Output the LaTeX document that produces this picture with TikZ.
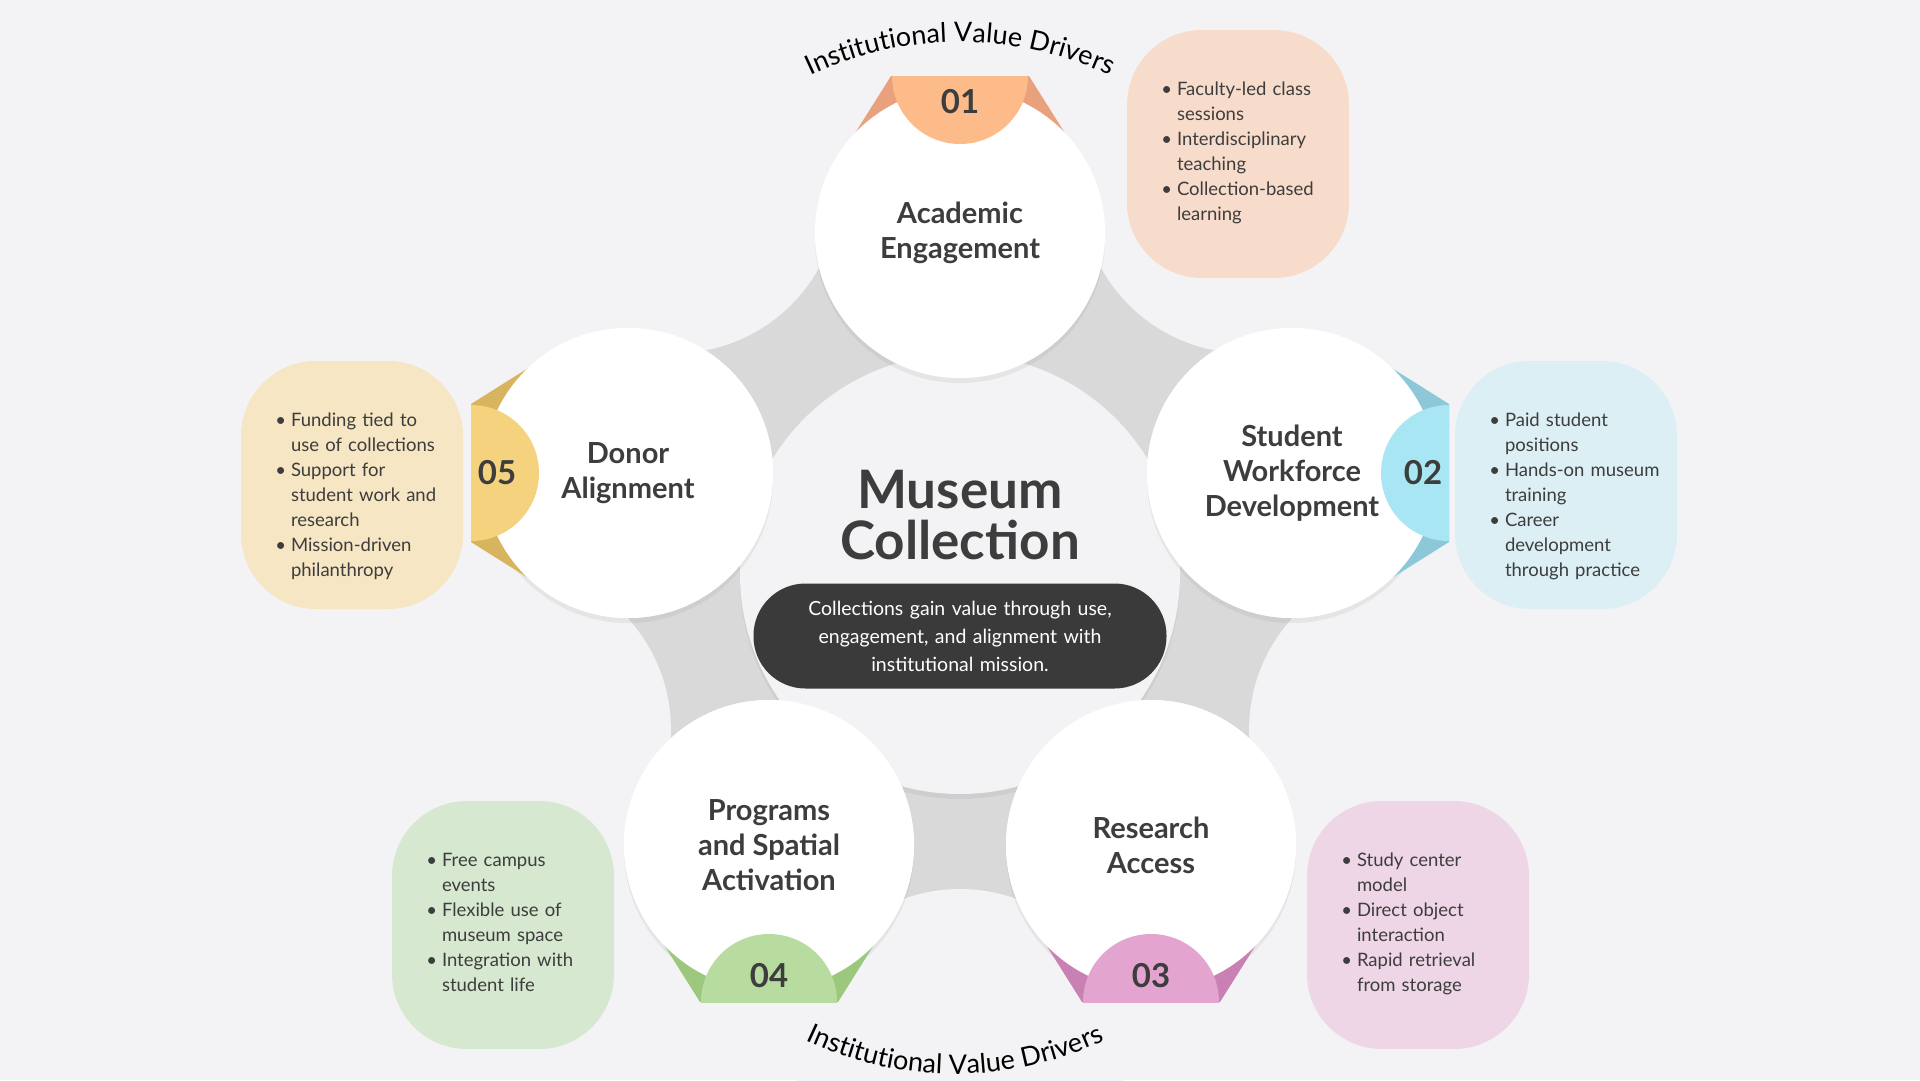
\documentclass[tikz,border=0pt]{standalone}
\usepackage{fontspec}
\setmainfont{Lato}
\usepackage{enumitem}
\usepackage{tikz}
\usetikzlibrary{positioning, calc, shadows, decorations.text}

\definecolor{bg}{HTML}{F3F3F5}
\definecolor{ring}{HTML}{D9D9D9}
\definecolor{ink}{HTML}{3D3D3D}
\definecolor{pill}{HTML}{3A3A3A}
\definecolor{peach}{HTML}{F8DCCB}
\definecolor{peachB}{HTML}{FDBB8A}
\definecolor{peachD}{HTML}{E9A07C}
\definecolor{sky}{HTML}{DCEFF5}
\definecolor{skyB}{HTML}{A8E6F3}
\definecolor{skyD}{HTML}{8DC8D8}
\definecolor{rose}{HTML}{EED6E6}
\definecolor{roseB}{HTML}{E3A5CF}
\definecolor{roseD}{HTML}{C980B2}
\definecolor{mint}{HTML}{D6E8D0}
\definecolor{mintB}{HTML}{B8DCA0}
\definecolor{mintD}{HTML}{9CC87E}
\definecolor{sand}{HTML}{F6E6C3}
\definecolor{sandB}{HTML}{F4D27E}
\definecolor{sandD}{HTML}{D9B45E}

% badge: circle name, outward angle, number, badge colour, ribbon colour
\newcommand{\driverbadge}[5]{%
  \fill[#5] ($(#1)+(#2:157)+(#2+90:69)$) -- ($(#1)+(#2:95)+(#2+90:108)$)
    -- ($(#1)+(#2:95)+(#2-90:108)$) -- ($(#1)+(#2:157)+(#2-90:69)$) -- cycle;
  \fill[white] (#1) circle[radius=145];
  \begin{scope}
    \clip ($(#1)+(#2:157)+(#2+90:200)$) -- ($(#1)+(#2:157)+(#2-90:200)$)
      -- ($(#1)+(#2-90:200)$) -- ($(#1)+(#2+90:200)$) -- cycle;
    \fill[#4] ($(#1)+(#2:157)$) circle[radius=68];
  \end{scope}
  \node[num] at ($(#1)+(#2:131)$) {#3};}

\begin{document}
\begin{tikzpicture}[
    x=1pt, y=-1pt,
    % Estilos
    sat/.style = {circle, fill=white, minimum size=290pt, inner sep=0pt,
        drop shadow={opacity=0.12, shadow xshift=0pt, shadow yshift=-5pt}},
    title/.style = {align=center, text=ink, font=\bfseries\fontsize{29}{35}\selectfont},
    num/.style = {text=ink, font=\bfseries\fontsize{33}{33}\selectfont},
    infobox/.style = {rounded corners=75pt, minimum width=222pt, minimum height=248pt},
    list/.style = {anchor=north west, inner sep=0pt, text width=185pt, text=ink,
        font=\fontsize{18.5}{25}\selectfont},
    arctext/.style = {decorate, decoration={text along path, text align=center,
        text={|\fontsize{27}{27}\selectfont\color{black}|Institutional Value Drivers}}}
]
\useasboundingbox[fill=bg] (0,0) rectangle (1920,1080);

% --- ANILLO GRIS ---
\fill[ring] (960,574) circle[radius=390];
\foreach \a in {-53.5, 18.9, 90, 161.1, 233.5}
  \fill[bg] ($(960,574)+(\a:480)$) circle[radius=165];

% --- NUCLEO ---
\node[circle, fill=bg, minimum size=440pt,
      drop shadow={opacity=0.12, shadow xshift=0pt, shadow yshift=-5pt}] (core) at (960,574) {};
\node[title, font=\bfseries\fontsize{53}{51}\selectfont] (museum) at (960,515) {Museum\\Collection};
\node[rounded corners=52pt, fill=pill, minimum width=413pt, minimum height=105pt,
      text width=395pt, align=center, text=white, font=\fontsize{19.5}{28}\selectfont]
      (note) at (960,636) {\hyphenpenalty=10000 Collections gain value through use,\\engagement, and alignment with\\institutional mission.};

% --- CIRCULOS ---
\node[sat] (acad) at (960,233) {};
\node[sat] (work) at (1292,473) {};
\node[sat] (research) at (1151,845) {};
\node[sat] (programs) at (769,845) {};
\node[sat] (donor) at (628,473) {};

\driverbadge{acad}{-90}{01}{peachB}{peachD}
\driverbadge{work}{0}{02}{skyB}{skyD}
\driverbadge{research}{90}{03}{roseB}{roseD}
\driverbadge{programs}{90}{04}{mintB}{mintD}
\driverbadge{donor}{180}{05}{sandB}{sandD}

\node[title] at (acad) {Academic\\Engagement};
\node[title] at (work) {Student\\Workforce\\Development};
\node[title] at (research) {Research\\Access};
\node[title] at (programs) {Programs\\and Spatial\\Activation};
\node[title] at (donor) {Donor\\Alignment};

% --- CAJAS DE TEXTO ---
\node[infobox, fill=peach] (acadbox) at (1238,154) {};
\node[infobox, fill=sky] (workbox) at (1566,485) {};
\node[infobox, fill=rose] (researchbox) at (1418,925) {};
\node[infobox, fill=mint] (programsbox) at (503,925) {};
\node[infobox, fill=sand] (donorbox) at (352,485) {};

\foreach \b/\items in {
    acadbox/{\item Faculty-led class sessions \item Interdisciplinary teaching \item Collection-based learning},
    workbox/{\item Paid student positions \item Hands-on museum training \item Career development through practice},
    researchbox/{\item Study center model \item Direct object interaction \item Rapid retrieval from storage},
    programsbox/{\item Free campus events \item Flexible use of museum space \item Integration with student life},
    donorbox/{\item Funding tied to use of collections \item Support for student work and research \item Mission-driven philanthropy}}
  \node[list] at ([shift={(24,40)}]\b.north west)
    {\begin{itemize}[leftmargin=26pt, itemsep=0pt, topsep=0pt, parsep=0pt, partopsep=0pt]\items\end{itemize}};

% --- TEXTO CURVO ---
\path[arctext] (960,392) ++(-125:350) arc[start angle=-125, end angle=-55, radius=350];
\path[arctext] (955,724) ++(125:350) arc[start angle=125, end angle=55, radius=350];

\end{tikzpicture}
\end{document}
